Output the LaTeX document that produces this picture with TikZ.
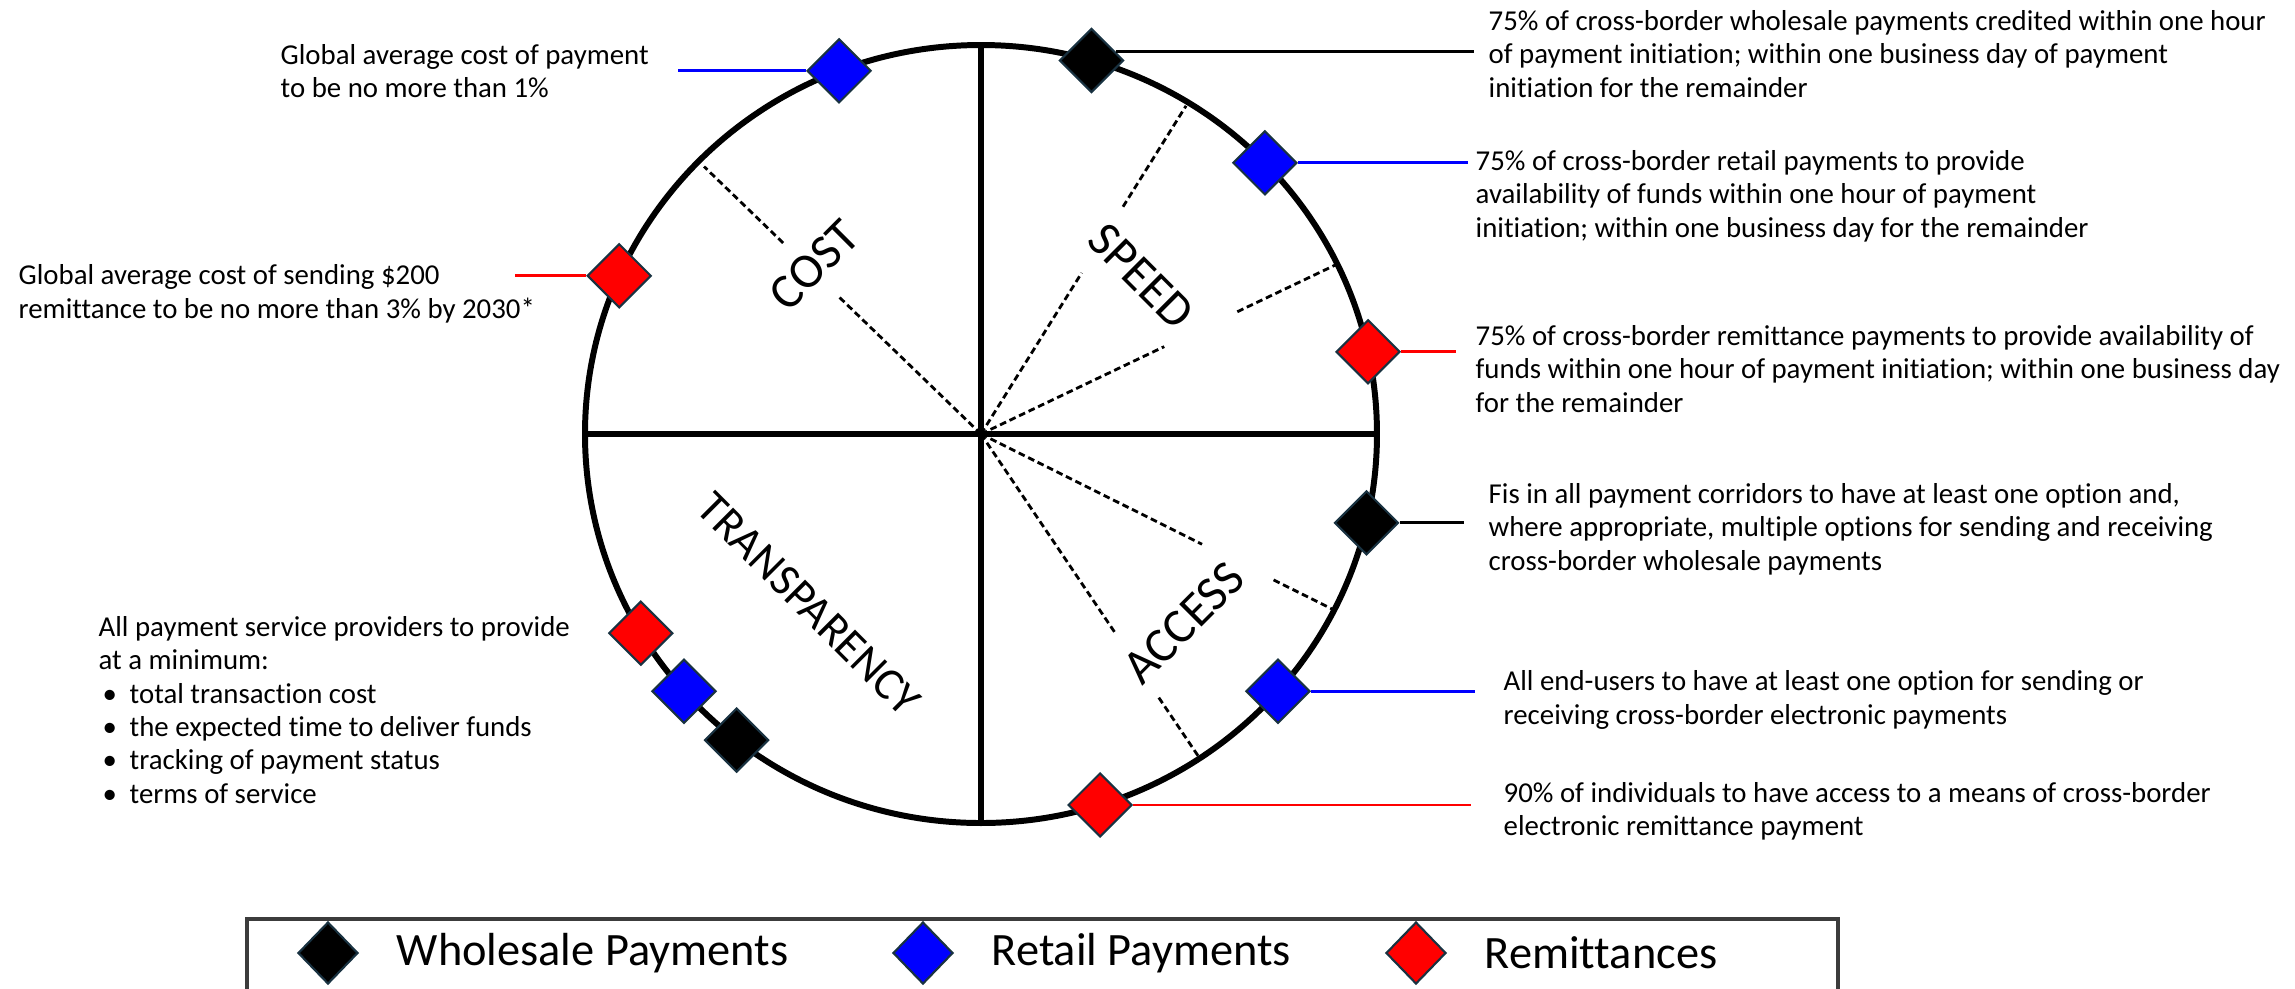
\documentclass[tikz,border=0pt]{standalone}
\usepackage{fontspec}
\setmainfont{Carlito}[Ligatures=NoCommon]
\usetikzlibrary{shapes.geometric}
\usetikzlibrary{positioning}
\definecolor{gemedge}{RGB}{25,50,65}
\definecolor{keyline}{RGB}{60,60,60}
\tikzset{%
  gem/.style={diamond,draw=gemedge,line width=0.6pt,inner sep=0pt,
    minimum width=6.4mm,minimum height=6.4mm},
  wsale/.style={gem,fill=black},
  retail/.style={gem,fill=blue},
  remit/.style={gem,fill=red},
  keygem/.style={minimum width=6mm,minimum height=6.2mm},
  goal/.style={anchor=west,align=left,inner sep=0pt,
    font=\fontsize{8.2}{9.5}\selectfont},
  pillar/.style={inner sep=0pt,font=\fontsize{14}{16}\selectfont},
  keytext/.style={inner sep=0pt,font=\fontsize{13.2}{15}\selectfont},
  rim/.style={line width=1.7pt},
  divider/.style={line width=1.7pt},
  subdiv/.style={line width=0.8pt,dash pattern=on 1.9pt off 1.1pt},
  lead/.style={line width=0.8pt}
}
\newcommand\ringx{396}
\newcommand\ringy{389}
\newcommand\tick{\makebox[3.1mm][l]{\hspace{0.4mm}\textbullet}}

\begin{document}
\begin{tikzpicture}[x=0.1mm,y=0.1mm]
    \useasboundingbox (-981,-554) rectangle (1314,434);
    % the wheel
    \draw[rim] (0,0) ellipse [x radius=\ringx, y radius=\ringy];
    \draw[divider] (-\ringx,0) -- (\ringx,0) (0,\ringy) -- (0,-\ringy);
    \foreach \ang/\ra/\rb/\rc in {136/198/275/385, 58/190/268/387,
        25.5/203/284/393, -26.5/247/327/394, -56/241/318/388}
        \draw[subdiv] (0,0) -- (\ang:\ra) (\ang:\rb) -- (\ang:\rc);
    \node[pillar,rotate=45] (cost) at (-167,169) {COST};
    \node[pillar,rotate=-45] (speed) at (160,158) {SPEED};
    \node[pillar,rotate=-45,font=\fontsize{13}{15}\selectfont] (transp) at (-172,-170) {TRANSPARENCY};
    \node[pillar,rotate=45] (access) at (203,-189) {ACCESS};
    % markers on the rim
    \node[retail] (rt1) at (111:396 and 389) {};
    \node[remit]  (rm1) at (156:396 and 389) {};
    \node[wsale]  (wh1) at (73.8:396 and 389) {};
    \node[retail] (rt2) at (44.2:396 and 389) {};
    \node[remit]  (rm2) at (12.2:396 and 389) {};
    \node[wsale]  (wh2) at (-13.2:396 and 389) {};
    \node[retail] (rt3) at (-41.4:396 and 389) {};
    \node[remit]  (rm3) at (-72.5:396 and 389) {};
    \node[remit]  (rm4) at (210.8:396 and 389) {};
    \node[retail] (rt4) at (221.4:396 and 389) {};
    \node[wsale]  (wh3) at (231.9:396 and 389) {};
    % leader lines
    \coordinate (c-rt1) at (-303,0);
    \coordinate (c-rm1) at (-466,0);
    \coordinate (c-wh1) at (493,0);
    \coordinate (c-rt2) at (487,0);
    \coordinate (c-rm2) at (475,0);
    \coordinate (c-wh2) at (483,0);
    \coordinate (c-rt3) at (494,0);
    \coordinate (c-rm3) at (490,0);
    \draw[lead,blue] (rt1) -- (rt1 -| c-rt1);
    \draw[lead,red] (rm1) -- (rm1 -| c-rm1);
    \draw[lead] (wh1.20) -- (wh1.20 -| c-wh1);
    \draw[lead,blue] (rt2) -- (rt2 -| c-rt2);
    \draw[lead,red] (rm2) -- (rm2 -| c-rm2);
    \draw[lead] (wh2) -- (wh2 -| c-wh2);
    \draw[lead,blue] (rt3) -- (rt3 -| c-rt3);
    \draw[lead,red] (rm3) -- (rm3 -| c-rm3);
    % targets
    \node[goal] (t-rt1) at (-701,363) {Global average cost of payment\\to be no more than 1\%};
    \node[goal] (t-rm1) at (-963,140) {Global average cost of sending \$200\\remittance to be no more than 3\% by 2030*};
    \node[goal] (t-wh1) at (507,380) {75\% of cross-border wholesale payments credited within one hour\\of payment initiation; within one business day of payment\\initiation for the remainder};
    \node[goal] (t-rt2) at (494,238) {75\% of cross-border retail payments to provide\\availability of funds within one hour of payment\\initiation; within one business day for the remainder};
    \node[goal] (t-rm2) at (494,65) {75\% of cross-border remittance payments to provide availability of\\funds within one hour of payment initiation; within one business day\\for the remainder};
    \node[goal] (t-wh2) at (507,-95) {Fis in all payment corridors to have at least one option and,\\where appropriate, multiple options for sending and receiving\\cross-border wholesale payments};
    \node[goal] (t-rt3) at (522,-266) {All end-users to have at least one option for sending or\\receiving cross-border electronic payments};
    \node[goal] (t-rm3) at (522,-377) {90\% of individuals to have access to a means of cross-border\\electronic remittance payment};
    \node[goal] (t-tr) at (-883,-276) {All payment service providers to provide\\at a minimum:\\
        \tick total transaction cost\\
        \tick the expected time to deliver funds\\
        \tick tracking of payment status\\
        \tick terms of service};
    % legend
    \draw[keyline,line width=0.9pt] (-734,-600) rectangle (857,-485);
    \node[wsale,keygem] (k-wh) at (-653,-519) {};
    \node[retail,keygem] (k-rt) at (-58,-519) {};
    \node[remit,keygem] (k-rm) at (435,-519) {};
    \node[keytext,right=3.7mm of k-wh] (k-wh-t) {Wholesale Payments};
    \node[keytext,right=3.7mm of k-rt] (k-rt-t) {Retail Payments};
    \node[keytext,right=3.7mm of k-rm] (k-rm-t) {Remittances};
\end{tikzpicture}
\end{document}
